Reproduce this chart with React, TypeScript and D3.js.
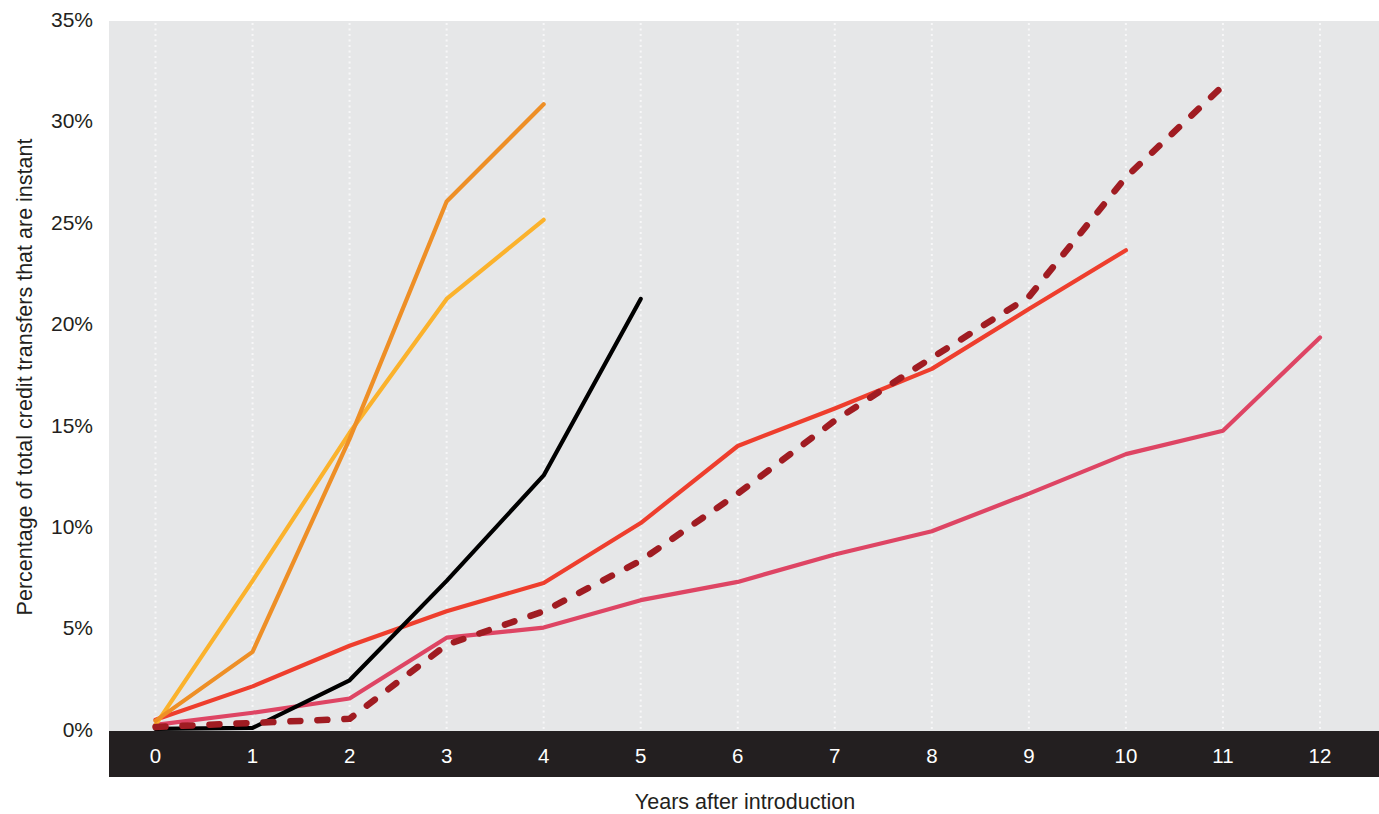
import React from "react";
import * as d3 from "d3";

const years = [0, 1, 2, 3, 4, 5, 6, 7, 8, 9, 10, 11, 12];
const yTicks = [0, 5, 10, 15, 20, 25, 30, 35];

const orangeSeries = [0.5, 3.9, 14.4, 26.1, 30.9];
const yellowSeries = [0.3, 7.4, 14.7, 21.3, 25.2];
const blackSeries = [0.1, 0.15, 2.5, 7.4, 12.6, 21.3];
const redSeries = [0.55, 2.2, 4.2, 5.9, 7.3, 10.25, 14.05, 15.9, 17.85, 20.8, 23.7];
const pinkSeries = [0.3, 0.9, 1.6, 4.6, 5.1, 6.45, 7.35, 8.7, 9.85, 11.7, 13.65, 14.8, 19.4];
const dashedSeries = [0.2, 0.4, 0.6, 4.25, 5.9, 8.4, 11.7, 15.3, 18.4, 21.4, 27.3, 31.8];

const seriesList = [
  { name: "pink", values: pinkSeries, color: "#DE4564", dashed: false },
  { name: "red", values: redSeries, color: "#EE3E2D", dashed: false },
  { name: "yellow", values: yellowSeries, color: "#FBB22C", dashed: false },
  { name: "orange", values: orangeSeries, color: "#EE8F26", dashed: false },
  { name: "black", values: blackSeries, color: "#000000", dashed: false },
  { name: "dashed", values: dashedSeries, color: "#A01C22", dashed: true },
];

const W = 1379;
const H = 814;
const plotLeft = 109;
const plotRight = 1379;
const plotTop = 21;
const zeroY = 731;
const bandBottom = 777;

export default function App() {
  const x = d3.scaleLinear().domain([0, 12]).range([155.5, 1320]);
  const y = d3.scaleLinear().domain([0, 35]).range([zeroY, plotTop]);
  const line = d3
    .line<number>()
    .x((_, i) => x(i))
    .y((d) => y(d));
  const font = "'Liberation Sans', Arial, Helvetica, sans-serif";

  return (
    <svg
      width={W}
      height={H}
      style={{ position: "absolute", left: 0, top: 0, background: "#fff" }}
      fontFamily={font}
    >
      <rect x={plotLeft} y={plotTop} width={plotRight - plotLeft} height={zeroY - plotTop} fill="#E6E7E8" />
      {years.map((yr) => (
        <line
          key={"g" + yr}
          x1={x(yr)}
          x2={x(yr)}
          y1={plotTop + 2}
          y2={zeroY}
          stroke="#F7F7F8"
          strokeWidth={2}
          strokeDasharray="2 3.5"
        />
      ))}
      <rect x={plotLeft} y={zeroY} width={plotRight - plotLeft} height={bandBottom - zeroY} fill="#231F20" />
      {years.map((yr) => (
        <text
          key={"xt" + yr}
          x={x(yr)}
          y={755.5}
          dy="0.35em"
          textAnchor="middle"
          fill="#FFFFFF"
          fontSize={20.5}
        >
          {yr}
        </text>
      ))}
      {yTicks.map((t) => (
        <text
          key={"yt" + t}
          x={93}
          y={y(t) - 1.5}
          dy="0.35em"
          textAnchor="end"
          fill="#231F20"
          fontSize={21}
        >
          {t + "%"}
        </text>
      ))}
      {seriesList.map((s) => (
        <path
          key={s.name}
          d={line(s.values) || ""}
          fill="none"
          stroke={s.color}
          strokeWidth={s.dashed ? 6.5 : 4.2}
          strokeLinecap="round"
          strokeLinejoin="round"
          strokeDasharray={s.dashed ? "10 17" : undefined}
        />
      ))}
      <text x={745} y={809} textAnchor="middle" fill="#231F20" fontSize={21.5}>
        Years after introduction
      </text>
      <text
        transform={`translate(32, 377) rotate(-90)`}
        textAnchor="middle"
        fill="#231F20"
        fontSize={21.5}
      >
        Percentage of total credit transfers that are instant
      </text>
    </svg>
  );
}
